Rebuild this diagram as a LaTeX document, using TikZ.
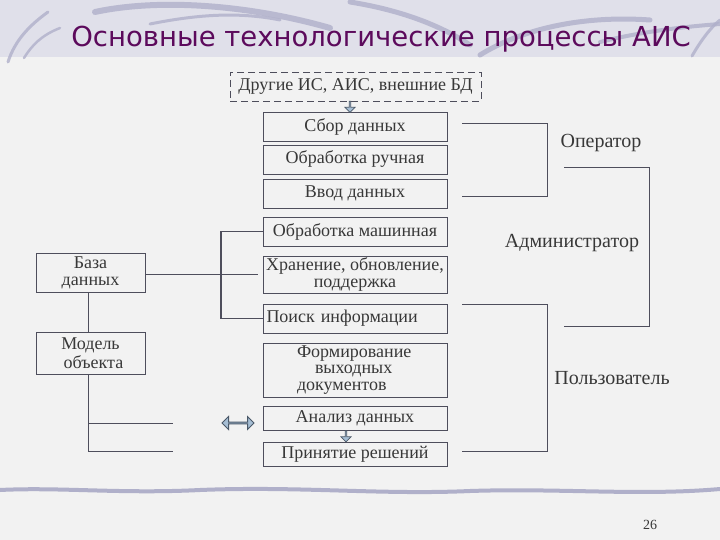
\documentclass[tikz,border=0pt]{standalone}
\usepackage{fontspec}
\setmainfont{Liberation Serif}
\newfontfamily\titlefont{DejaVu Sans}
\newfontfamily\boxfont{Liberation Serif}
\usetikzlibrary{shapes.arrows}
\definecolor{lc}{HTML}{4E4E5C}
\definecolor{txt}{HTML}{383838}
\definecolor{ttl}{HTML}{5C0A5C}
\definecolor{bg}{HTML}{F2F2F2}
\definecolor{band}{HTML}{E0E0EA}
\definecolor{swo}{HTML}{B0B0CA}
\definecolor{arf}{HTML}{A6BED4}
\definecolor{ard}{HTML}{4A5868}
\tikzset{
  box/.style={draw=lc, line width=0.9pt, minimum width=184pt, minimum height=29pt,
    inner sep=0pt, align=center, text=txt, font=\boxfont\fontsize{18}{17}\selectfont},
  lbox/.style={box, minimum width=109pt},
  lbl/.style={inner sep=0pt, text=txt, font=\boxfont\fontsize{20}{20}\selectfont},
  conn/.style={draw=lc, line width=0.9pt},
  downarr/.style={single arrow, draw=ard, fill=arf, line width=0.8pt,
    minimum width=10pt, minimum height=11pt, single arrow head extend=2.5pt,
    inner sep=0pt, shape border rotate=270},
  swoosh/.style={draw=swo, line cap=round, opacity=0.8}
}
\begin{document}
\begin{tikzpicture}[x=1pt,y=-1pt]
\useasboundingbox (0,0) rectangle (720,540);
\fill[bg] (0,0) rectangle (720,540);
\fill[band] (0,0) rectangle (720,57);
% decorative swooshes
\draw[swoosh, line width=3pt] (8,62) .. controls (15,40) and (30,25) .. (48,12);
\draw[swoosh, line width=2.5pt] (24,58) .. controls (32,45) and (42,35) .. (60,28);
\draw[swoosh, line width=6pt] (95,12) .. controls (160,-2) and (250,5) .. (330,28);
\draw[swoosh, line width=3pt] (150,24) .. controls (200,14) and (240,12) .. (280,20);
\draw[swoosh, line width=5pt] (350,2) .. controls (400,10) and (440,25) .. (470,45);
\draw[swoosh, line width=5pt] (480,55) .. controls (520,30) and (580,15) .. (650,20);
\draw[swoosh, line width=4pt] (600,42) .. controls (640,32) and (680,27) .. (720,24);
\draw[swoosh, line width=3pt] (692,56) .. controls (700,42) and (710,28) .. (720,20);
% bottom line
\draw[draw=swo, line width=4pt] (0,490) .. controls (60,487) and (120,494) .. (200,490)
  .. controls (300,486) and (380,495) .. (470,491) .. controls (560,488) and (640,496) .. (720,489);

% title
\node[anchor=base, inner sep=0pt, text=ttl, font=\titlefont\fontsize{27.5}{27.5}\selectfont]
  (title) at (381,47) {Основные технологические процессы АИС};

% main column
\node[box, dashed, dash pattern=on 7pt off 4pt, minimum width=251pt] (other) at (355.5,86.5) {Другие ИС, АИС, внешние БД};
\node[box] (sbor) at (355,126.5) {Сбор данных};
\node[box] (ruch) at (355,159.5) {Обработка ручная};
\node[box] (vvod) at (355,193.5) {Ввод данных};
\node[box] (mash) at (355,231.5) {Обработка машинная};
\node[box, minimum height=37pt] (hran) at (355,274.5) {Хранение, обновление,\\поддержка};
\node[box, text width=178pt, align=left] (poisk) at (355.5,318.5) {Поиск информации};
\node[box, minimum height=54pt, text width=116pt, align=left, font=\boxfont\fontsize{18}{16.5}\selectfont] (form) at (355,370)
  {Формирование\\\hspace*{18pt}выходных\\документов};
\node[box, minimum height=24pt] (anal) at (355,418) {Анализ данных};
\node[box, minimum height=24pt] (prin) at (355,454) {Принятие решений};

% left column
\node[lbox, minimum height=39pt] (baza) at (90.5,272.5) {База\\данных};
\node[lbox, minimum height=42pt, font=\boxfont\fontsize{18}{19}\selectfont] (model) at (90.5,353) {Модель\\\hspace*{6pt}объекта};

% arrows
\node[downarr] (a1) at (350,106.5) {};
\node[downarr] (a2) at (346,436) {};
\node[double arrow, draw=ard, fill=arf, line width=1pt, minimum width=13pt,
  minimum height=32pt, double arrow head extend=3.5pt, inner sep=0pt] (da) at (238,423) {};

% connectors left
\draw[conn] (baza.east |- hran.west) -- ([xshift=-5pt]hran.west);
\coordinate (bt) at (221,0);
\draw[conn, line width=1.6pt] (bt |- mash.west) -- (bt |- poisk.west);
\draw[conn] (bt |- mash.west) -- (mash.west);
\draw[conn] (bt |- poisk.west) -- (poisk.west);
\draw[conn] ([xshift=-2.5pt]baza.south) -- ([xshift=-2.5pt]model.north);
\coordinate (m1) at (88,423);
\coordinate (m2) at (88,451);
\draw[conn] ([xshift=-2.5pt]model.south) -- (m2);
\draw[conn] (m1) -- (173,423);
\draw[conn] (m2) -- (173,451);

% right brackets
\coordinate (o1) at (462,123);
\coordinate (o2) at (547,196);
\draw[conn] (o1) -| (o2) -- (o1 |- o2);
\coordinate (d1) at (564,167);
\coordinate (d2) at (649,326);
\draw[conn] (d1) -| (d2) -- (d1 |- d2);
\coordinate (u1) at (462,304);
\coordinate (u2) at (547,451);
\draw[conn] (u1) -| (u2) -- (u1 |- u2);

\node[lbl] (oper) at (601,143) {Оператор};
\node[lbl] (admin) at (572,243) {Администратор};
\node[lbl] (user) at (612,378) {Пользователь};

\node[inner sep=0pt, text=txt, font=\boxfont\fontsize{14}{14}\selectfont] (page) at (650,525) {26};
\end{tikzpicture}
\end{document}
